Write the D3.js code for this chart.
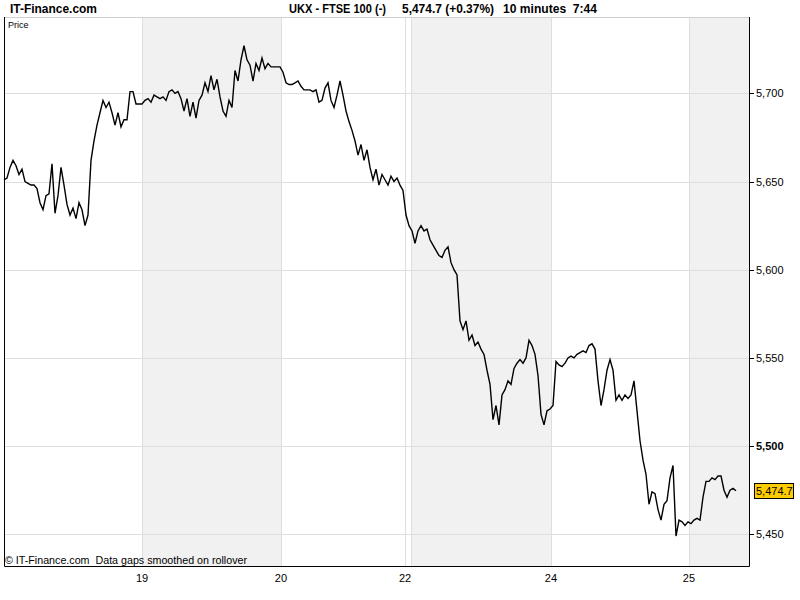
<!DOCTYPE html>
<html>
<head>
<meta charset="utf-8">
<script src="https://cdn.jsdelivr.net/npm/d3@7"></script>
<style>
  body { margin: 0; background: #fff; }
  text { font-family: "Liberation Sans", Arial, sans-serif; }
</style>
</head>
<body>
<div id="chart"></div>
<script>
// 10 minute closes, one per bar step
const prices = [
  5651, 5652, 5658, 5662, 5659, 5654, 5657, 5650, 5649, 5648,
  5648, 5646, 5638, 5634, 5642, 5643, 5660, 5632, 5642, 5658,
  5648, 5637, 5631, 5635, 5629, 5638, 5634, 5625, 5631, 5662,
  5673, 5682, 5689, 5696, 5692, 5695, 5689, 5682, 5689, 5681,
  5685, 5685, 5701, 5701, 5694, 5694, 5694, 5696, 5697, 5695,
  5699, 5698, 5697, 5698, 5696, 5701, 5702, 5700, 5701, 5697,
  5690, 5697, 5687, 5695, 5686, 5696, 5699, 5706, 5701, 5710,
  5702, 5708, 5698, 5690, 5687, 5696, 5692, 5713, 5707, 5719,
  5727, 5719, 5716, 5707, 5717, 5713, 5720, 5714, 5717, 5715,
  5715, 5715, 5715, 5712, 5706, 5705, 5705, 5706, 5707, 5704,
  5702, 5702, 5702, 5701, 5702, 5695, 5696, 5703, 5706, 5696,
  5692, 5699, 5707, 5699, 5690, 5684, 5679, 5673, 5665, 5671,
  5662, 5668, 5658, 5651, 5657, 5648, 5654, 5651, 5648, 5653,
  5650, 5652, 5648, 5645, 5631, 5625, 5622, 5615, 5622, 5625,
  5622, 5623, 5617, 5614, 5611, 5608, 5607, 5611, 5613, 5604,
  5600, 5597, 5571, 5566, 5571, 5560, 5563, 5557, 5559, 5555,
  5552, 5543, 5535, 5515, 5523, 5512, 5529, 5532, 5537, 5535,
  5544, 5547, 5549, 5547, 5550, 5560, 5557, 5552, 5540, 5518,
  5512, 5520, 5521, 5523, 5548, 5546, 5545, 5547, 5550, 5551,
  5550, 5552, 5553, 5554, 5553, 5557, 5558, 5555, 5537, 5523,
  5532, 5543, 5549, 5543, 5526, 5529, 5526, 5529, 5527, 5529,
  5537, 5520, 5503, 5492, 5484, 5467, 5474, 5473, 5464, 5458,
  5467, 5469, 5482, 5489, 5449, 5458, 5457, 5455, 5457, 5456,
  5458, 5459, 5458, 5471, 5480, 5480, 5482, 5481, 5483, 5483,
  5475, 5471, 5475, 5476, 5474.7
]

// day boundaries in bar steps
const dayLabels = ['19', '20', '22', '24', '25']
const dayTicks = [46, 92.33, 133.67, 182.33, 228.33]
const shadeBands = [[46, 92.33], [135.67, 182.33], [228.33, 248.33]]
const priceTicks = [5450, 5500, 5550, 5600, 5650, 5700]
const lastPrice = 5474.7

const width = 800
const height = 600
const plot = { left: 4, right: 749, top: 17, bottom: 566 }

const svg = d3.select('#chart')
  .append('svg')
  .attr('width', width)
  .attr('height', height)

const x = d3.scaleLinear().domain([0, 248.33]).range([plot.left, plot.right])
const y = d3.scaleLinear().domain([5432, 5743.3]).range([plot.bottom, plot.top])
const fmt = d3.format(',')

// shaded alternate days
svg.selectAll('.band').data(shadeBands).enter().append('rect')
  .attr('x', (d) => x(d[0]))
  .attr('y', plot.top)
  .attr('width', (d) => x(d[1]) - x(d[0]))
  .attr('height', plot.bottom - plot.top)
  .attr('fill', '#f1f1f1')

// grid
svg.selectAll('.hgrid').data(priceTicks).enter().append('line')
  .attr('x1', plot.left).attr('x2', plot.right)
  .attr('y1', (d) => Math.round(y(d)) + 0.5).attr('y2', (d) => Math.round(y(d)) + 0.5)
  .attr('stroke', '#dedede')

const vlines = dayTicks.concat([shadeBands[1][0]])
svg.selectAll('.vgrid').data(vlines).enter().append('line')
  .attr('x1', (d) => Math.round(x(d)) + 0.5).attr('x2', (d) => Math.round(x(d)) + 0.5)
  .attr('y1', plot.top).attr('y2', plot.bottom)
  .attr('stroke', '#dedede')

// top border
svg.append('line')
  .attr('x1', plot.left).attr('x2', plot.right)
  .attr('y1', plot.top + 0.5).attr('y2', plot.top + 0.5)
  .attr('stroke', '#cfcfcf')

// price line
const line = d3.line()
  .x((d, i) => x(i))
  .y((d) => y(d))

svg.append('path')
  .datum(prices)
  .attr('d', line)
  .attr('fill', 'none')
  .attr('stroke', '#000')
  .attr('stroke-width', 1.4)

// frame
svg.append('path')
  .attr('d', `M${plot.left + 0.5},${plot.top}V${plot.bottom + 0.5}H${plot.right + 0.5}V${plot.top}`)
  .attr('fill', 'none')
  .attr('stroke', '#000')

// right axis
const yAxis = svg.append('g')
yAxis.selectAll('.tick').data(priceTicks).enter().append('line')
  .attr('x1', plot.right).attr('x2', plot.right + 5)
  .attr('y1', (d) => Math.round(y(d)) + 0.5).attr('y2', (d) => Math.round(y(d)) + 0.5)
  .attr('stroke', '#000')
yAxis.selectAll('.lbl').data(priceTicks).enter().append('text')
  .attr('x', plot.right + 7)
  .attr('y', (d) => y(d) + 4)
  .attr('font-size', 11)
  .attr('font-weight', (d) => d === 5500 ? 'bold' : 'normal')
  .text((d) => fmt(d))

// last price tag
const ly = y(lastPrice)
svg.append('rect')
  .attr('x', 754.5).attr('y', Math.round(ly) - 7.5)
  .attr('width', 39).attr('height', 15)
  .attr('fill', '#ffcc00')
  .attr('stroke', '#000')
svg.append('text')
  .attr('x', 756).attr('y', ly + 4)
  .attr('font-size', 11)
  .text(d3.format(',.1f')(lastPrice))

// bottom axis labels
svg.selectAll('.xlbl').data(dayTicks).enter().append('text')
  .attr('x', (d) => x(d))
  .attr('y', 582)
  .attr('text-anchor', 'middle')
  .attr('font-size', 11)
  .text((d, i) => dayLabels[i])

// titles
const header = [
  { x: 10, w: 87, t: 'IT-Finance.com' },
  { x: 289, w: 97, t: 'UKX - FTSE 100 (-)' },
  { x: 402, w: 92, t: '5,474.7 (+0.37%)' },
  { x: 503, w: 94, t: '10 minutes  7:44' }
]
svg.selectAll('.hdr').data(header).enter().append('text')
  .attr('x', (d) => d.x).attr('y', 13)
  .attr('font-size', 12.5).attr('font-weight', 'bold')
  .attr('textLength', (d) => d.w).attr('lengthAdjust', 'spacingAndGlyphs')
  .attr('xml:space', 'preserve')
  .text((d) => d.t)

svg.append('text').attr('x', 8).attr('y', 28).attr('font-size', 9)
  .text('Price')
svg.append('text').attr('x', 5).attr('y', 564).attr('font-size', 11)
  .attr('xml:space', 'preserve')
  .attr('textLength', 242).attr('lengthAdjust', 'spacingAndGlyphs')
  .text('© IT-Finance.com  Data gaps smoothed on rollover')
</script>
</body>
</html>
